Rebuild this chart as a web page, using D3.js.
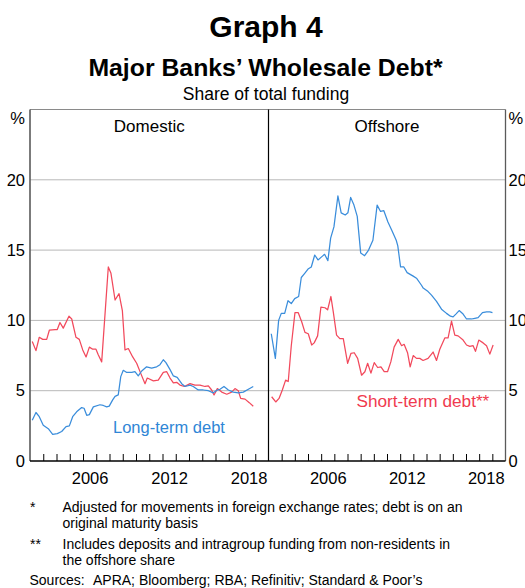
<!DOCTYPE html>
<html><head><meta charset="utf-8">
<script src="https://cdn.jsdelivr.net/npm/d3@7"></script>
<style>
html,body{margin:0;padding:0;background:#fff;}
svg{display:block;font-family:"Liberation Sans",Arial,Helvetica,sans-serif;}
</style>
</head><body>
<svg id="chart" width="525" height="588"></svg>
<script>
// ---------------- DATA ----------------
const yTicks = [0, 5, 10, 15, 20];
const yearTicks = [2003,2004,2005,2006,2007,2008,2009,2010,2011,2012,2013,2014,2015,2016,2017,2018,2019];
const yearLabels = [2006, 2012, 2018];
const panelNames = ["Domestic", "Offshore"];

// Domestic – short-term debt (red)
const domShortYears = [2002.17,2002.45,2002.70,2002.96,2003.26,2003.46,2003.89,2004.06,2004.26,2004.51,2004.94,2005.15,2005.47,2005.72,2005.98,2006.23,2006.48,2006.73,2006.98,2007.15,2007.41,2007.91,2008.11,2008.42,2008.72,2008.97,2009.17,2009.42,2009.75,2010.05,2010.35,2010.68,2010.85,2011.31,2011.68,2012.06,2012.32,2012.57,2012.82,2013.07,2013.32,2013.65,2014.08,2014.45,2014.83,2015.21,2015.46,2015.71,2015.89,2016.14,2016.47,2016.85,2017.22,2017.47,2017.72,2017.90,2018.23,2018.55,2018.85];
const domShortValues = [8.5,7.85,8.8,8.65,8.65,9.3,9.35,9.35,9.85,9.45,10.3,10.1,8.8,8.65,7.9,7.4,8.1,7.95,7.95,7.55,7.05,13.8,13.35,11.45,11.9,10.7,7.9,8.0,7.4,6.95,6.25,5.5,5.9,5.7,5.75,6.3,6.35,5.9,5.55,5.6,5.4,5.3,5.5,5.4,5.4,5.3,5.35,5.05,4.7,5.15,4.9,4.75,4.9,5.15,5.0,4.45,4.4,4.15,3.9];

// Domestic – long-term debt (blue)
const domLongYears = [2002.17,2002.45,2002.70,2003.00,2003.38,2003.71,2004.06,2004.39,2004.72,2004.97,2005.22,2005.52,2005.90,2006.08,2006.28,2006.48,2006.78,2007.28,2007.53,2007.79,2007.98,2008.24,2008.42,2008.66,2008.85,2009.04,2009.30,2009.68,2009.92,2010.17,2010.43,2010.80,2011.18,2011.56,2011.81,2012.06,2012.26,2012.57,2012.82,2013.11,2013.45,2013.70,2014.08,2014.32,2014.70,2015.08,2015.46,2015.83,2016.14,2016.34,2016.64,2016.97,2017.34,2017.72,2018.10,2018.48,2018.85];
const domLongValues = [2.9,3.45,3.15,2.55,2.3,1.9,1.95,2.1,2.45,2.5,3.15,3.5,3.8,3.75,3.25,3.3,3.85,4.0,3.95,3.85,3.9,4.35,4.6,4.7,6.0,6.45,6.3,6.3,6.35,6.05,6.4,6.7,6.6,6.7,6.85,7.2,7.0,6.5,6.05,5.95,5.5,5.3,5.4,5.3,5.05,5.05,5.0,4.85,5.05,5.1,5.3,5.05,4.9,4.85,4.9,5.1,5.3];

// Offshore – long-term debt (blue)
const offLongYears = [2002.21,2002.52,2002.77,2002.97,2003.23,2003.48,2003.73,2003.99,2004.29,2004.49,2004.75,2005.00,2005.25,2005.51,2005.76,2006.01,2006.26,2006.51,2006.72,2006.97,2007.27,2007.52,2007.83,2008.03,2008.24,2008.49,2008.74,2009.00,2009.30,2009.60,2009.93,2010.25,2010.51,2010.76,2011.07,2011.37,2011.70,2011.82,2012.03,2012.28,2012.53,2012.99,2013.24,2013.62,2013.75,2014.12,2014.38,2014.76,2015.14,2015.52,2015.82,2016.02,2016.23,2016.48,2016.78,2017.04,2017.42,2017.67,2017.92,2018.25,2018.56,2018.81,2019.01];
const offLongValues = [9.05,7.3,10.0,10.5,10.5,11.4,11.2,11.55,11.7,13.05,13.35,13.65,13.8,14.65,14.3,14.5,14.7,14.25,15.85,16.65,18.85,17.65,17.5,17.65,18.75,18.2,17.4,14.8,14.6,15.0,15.7,18.2,17.75,17.8,17.0,16.4,15.7,15.3,13.8,13.8,13.4,13.15,13.0,12.5,12.3,12.05,11.8,11.35,10.8,10.5,10.3,10.25,10.45,10.7,10.45,10.1,10.1,10.15,10.2,10.55,10.6,10.6,10.55];

// Offshore – short-term debt (red)
const offShortYears = [2002.24,2002.55,2002.80,2003.05,2003.30,2003.50,2003.73,2004.01,2004.26,2004.52,2004.77,2005.02,2005.28,2005.47,2005.73,2005.98,2006.29,2006.49,2006.74,2006.92,2007.17,2007.42,2007.68,2008.01,2008.26,2008.51,2008.77,2009.07,2009.32,2009.53,2009.78,2010.03,2010.29,2010.54,2010.79,2011.04,2011.29,2011.54,2011.85,2012.11,2012.30,2012.56,2012.76,2012.99,2013.24,2013.49,2013.74,2014.12,2014.50,2014.76,2015.01,2015.39,2015.64,2015.90,2016.15,2016.40,2016.78,2017.04,2017.29,2017.54,2017.72,2017.97,2018.30,2018.56,2018.81,2019.06];
const offShortValues = [4.57,4.2,4.45,5.05,5.75,5.65,8.2,10.55,10.55,9.9,9.15,9.05,8.25,8.4,8.9,10.95,10.9,10.75,11.7,10.6,8.95,8.7,8.7,6.95,7.65,7.7,7.3,6.1,6.35,6.95,6.25,7.0,6.65,6.7,6.35,6.35,7.05,8.1,8.65,8.2,8.3,7.7,6.7,7.5,7.3,7.3,7.15,7.3,7.75,7.15,7.95,8.75,8.75,9.95,8.95,8.9,8.6,8.25,8.15,8.2,7.8,8.6,8.4,8.2,7.6,8.25];

// ---------------- DRAWING ----------------
const RED = "#f2495c", BLUE = "#3a8ddb";
const FONT = '"Liberation Sans", Arial, Helvetica, sans-serif';
const svg = d3.select("#chart");

const plotTop = 109.5, plotBottom = 461, plotLeft = 30, plotMid = 268.5, plotRight = 505.5;
const y = d3.scaleLinear().domain([0, 25]).range([plotBottom, plotTop]);
const xL = d3.scaleLinear().domain([2002, 2020]).range([plotLeft, plotMid]);
const xR = d3.scaleLinear().domain([2002, 2020]).range([plotMid, plotRight]);

// Titles
svg.append("text").attr("x", 266).attr("y", 37).attr("text-anchor", "middle")
  .attr("font-size", 30).attr("font-weight", "bold").text("Graph 4");
svg.append("text").attr("x", 265.5).attr("y", 76).attr("text-anchor", "middle")
  .attr("font-size", 24.8).attr("font-weight", "bold").text("Major Banks\u2019 Wholesale Debt*");
svg.append("text").attr("x", 266).attr("y", 100).attr("text-anchor", "middle")
  .attr("font-size", 17.5).text("Share of total funding");

// Gridlines
svg.append("g").selectAll("line").data(yTicks.filter(d => d > 0)).join("line")
  .attr("x1", plotLeft).attr("x2", plotRight)
  .attr("y1", d => y(d)).attr("y2", d => y(d))
  .attr("stroke", "#b8b8b8").attr("stroke-width", 1);

// Year ticks and labels per panel
[xL, xR].forEach(xs => {
  const tickAxis = d3.axisBottom(xs).tickValues(yearTicks).tickSize(-7).tickFormat("");
  const gT = svg.append("g").attr("transform", `translate(0,${plotBottom})`).call(tickAxis);
  gT.select(".domain").remove();
  gT.selectAll("line").attr("stroke", "#000").attr("stroke-width", 1);

  const labAxis = d3.axisBottom(xs).tickValues(yearLabels.map(d => d + 0.5))
    .tickSize(0).tickPadding(11).tickFormat(d => String(Math.floor(d)));
  const gL = svg.append("g").attr("transform", `translate(0,${plotBottom})`).call(labAxis);
  gL.select(".domain").remove();
  gL.selectAll("text").attr("font-size", 16.5).attr("font-family", FONT).attr("fill", "#000");
});

// Y axes
const yl = svg.append("g").attr("transform", `translate(${plotLeft},0)`)
  .call(d3.axisLeft(y).tickValues(yTicks).tickSize(0).tickPadding(5));
yl.select(".domain").remove();
yl.selectAll("text").attr("font-size", 16.5).attr("font-family", FONT).attr("fill", "#000");
const yr = svg.append("g").attr("transform", `translate(${plotRight},0)`)
  .call(d3.axisRight(y).tickValues(yTicks).tickSize(0).tickPadding(3));
yr.select(".domain").remove();
yr.selectAll("text").attr("font-size", 16.5).attr("font-family", FONT).attr("fill", "#000");

svg.append("text").attr("x", 25).attr("y", 124).attr("text-anchor", "end")
  .attr("font-size", 16.5).text("%");
svg.append("text").attr("x", 508.5).attr("y", 124)
  .attr("font-size", 16.5).text("%");

// Frame
const frame = svg.append("g");
frame.append("line").attr("x1", plotLeft).attr("x2", plotRight).attr("y1", plotTop).attr("y2", plotTop)
  .attr("stroke", "#8a8a8a").attr("stroke-width", 1);
frame.append("line").attr("x1", plotLeft).attr("x2", plotLeft).attr("y1", plotTop).attr("y2", plotBottom)
  .attr("stroke", "#5a5a5a").attr("stroke-width", 1.6);
frame.append("line").attr("x1", plotRight).attr("x2", plotRight).attr("y1", plotTop).attr("y2", plotBottom)
  .attr("stroke", "#5a5a5a").attr("stroke-width", 1.3);
frame.append("line").attr("x1", plotMid).attr("x2", plotMid).attr("y1", plotTop).attr("y2", plotBottom)
  .attr("stroke", "#000").attr("stroke-width", 1.2);
frame.append("line").attr("x1", plotLeft).attr("x2", plotRight).attr("y1", plotBottom).attr("y2", plotBottom)
  .attr("stroke", "#000").attr("stroke-width", 1.5);

// Panel titles
svg.append("text").attr("x", (plotLeft + plotMid) / 2).attr("y", 132).attr("text-anchor", "middle")
  .attr("font-size", 17).text(panelNames[0]);
svg.append("text").attr("x", (plotMid + plotRight) / 2).attr("y", 132).attr("text-anchor", "middle")
  .attr("font-size", 17).text(panelNames[1]);

// Lines
function drawLine(xs, years, values, color) {
  const pts = years.map((yv, i) => [yv, values[i]]);
  const gen = d3.line().x(d => xs(d[0])).y(d => y(d[1]));
  svg.append("path").datum(pts).attr("d", gen)
    .attr("fill", "none").attr("stroke", color).attr("stroke-width", 1.25)
    .attr("stroke-linejoin", "round");
}
drawLine(xL, domShortYears, domShortValues, RED);
drawLine(xL, domLongYears, domLongValues, BLUE);
drawLine(xR, offLongYears, offLongValues, BLUE);
drawLine(xR, offShortYears, offShortValues, RED);

// Series labels
svg.append("text").attr("x", 113).attr("y", 433).attr("font-size", 16.5)
  .attr("fill", "#2f86d6").text("Long-term debt");
svg.append("text").attr("x", 356.5).attr("y", 406.5).attr("font-size", 17.2)
  .attr("fill", "#f03a4f").text("Short-term debt**");

// Footnotes
const fn = svg.append("g").attr("font-size", 14).attr("fill", "#000");
fn.append("text").attr("x", 30).attr("y", 511.5).text("*");
fn.append("text").attr("x", 62.5).attr("y", 511.5).text("Adjusted for movements in foreign exchange rates; debt is on an");
fn.append("text").attr("x", 62.5).attr("y", 527.5).text("original maturity basis");
fn.append("text").attr("x", 30).attr("y", 548.5).text("**");
fn.append("text").attr("x", 62.5).attr("y", 548.5).text("Includes deposits and intragroup funding from non-residents in");
fn.append("text").attr("x", 62.5).attr("y", 564.5).text("the offshore share");
fn.append("text").attr("x", 29.5).attr("y", 584.5).text("Sources:");
fn.append("text").attr("x", 93).attr("y", 584.5).text("APRA; Bloomberg; RBA; Refinitiv; Standard & Poor\u2019s");
</script>
</body></html>
